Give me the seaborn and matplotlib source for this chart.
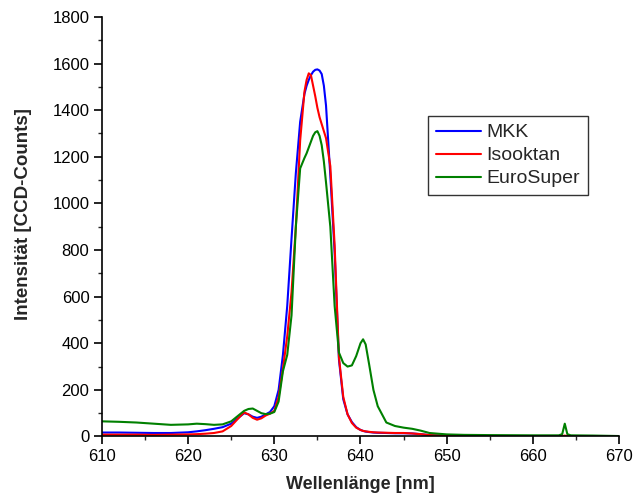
import numpy as np
import pandas as pd
import matplotlib
matplotlib.use("Agg")
import matplotlib.pyplot as plt
import seaborn as sns
from matplotlib.ticker import MultipleLocator

# Wavelength grid (nm)
wl = [610, 612, 614, 616, 618, 620, 621, 622, 623, 624, 625, 626, 626.5, 627, 627.5,
      628, 628.5, 629, 629.5, 630, 630.5, 631, 631.5, 632, 632.5, 633, 633.5, 633.75,
      634, 634.25, 634.5, 634.75, 635, 635.25, 635.5, 635.75, 636, 636.5, 637, 637.5,
      638, 638.5, 639, 639.5, 640, 640.3, 640.6, 641, 641.5, 642, 643, 644, 645, 646,
      647, 648, 650, 652, 655, 660, 663, 663.4, 663.7, 664, 664.4, 667, 670]

mkk = [17, 17, 16, 15, 15, 18, 22, 27, 33, 40, 55, 85, 100, 95, 85,
       80, 85, 95, 105, 130, 200, 350, 560, 850, 1130, 1350, 1470, 1505,
       1530, 1550, 1565, 1573, 1575, 1570, 1555, 1505, 1420, 1120, 790, 330,
       160, 95, 62, 40, 28, 24, 21, 19, 17, 16, 15, 14, 14, 13,
       10, 6, 3, 2, 1, 1, 1, 1, 1, 1, 1, 1, 0]

isooktan = [8, 8, 8, 7, 8, 9, 10, 12, 15, 22, 45, 85, 103, 95, 80,
            72, 78, 90, 98, 110, 170, 290, 430, 620, 900, 1270, 1480, 1530,
            1558, 1550, 1505, 1460, 1410, 1370, 1340, 1310, 1280, 1160, 820, 340,
            170, 95, 58, 38, 28, 24, 22, 20, 18, 17, 16, 15, 15, 13,
            10, 6, 3, 2, 1, 1, 1, 1, 4, 1, 1, 1, 0]

eurosuper = [65, 63, 60, 55, 50, 52, 55, 53, 50, 52, 65, 95, 110, 118, 120,
             110, 100, 96, 98, 105, 150, 280, 350, 520, 900, 1150, 1195, 1215,
             1240, 1265, 1290, 1305, 1310, 1290, 1250, 1180, 1090, 900, 560, 360,
             315, 300, 305, 345, 400, 417, 395, 310, 200, 130, 60, 45, 38, 33,
             25, 15, 9, 7, 6, 5, 5, 10, 55, 10, 5, 4, 2]

series_names = ["MKK", "Isooktan", "EuroSuper"]
colors = ["#0000ff", "#ff0000", "#008000"]

df = pd.concat([
    pd.DataFrame({"wl": wl, "val": v, "Probe": n})
    for n, v in zip(series_names, [mkk, isooktan, eurosuper])
], ignore_index=True)

sns.set_style("ticks")
plt.rcParams["font.family"] = ["Liberation Sans", "DejaVu Sans"]

fig = plt.figure(figsize=(6.33, 4.98), dpi=100)
ax = fig.add_axes([0.161, 0.1235, 0.817, 0.8425])

sns.lineplot(data=df, x="wl", y="val", hue="Probe", hue_order=series_names,
             palette=colors, estimator=None, sort=True, linewidth=1.5, ax=ax)

ax.set_xlim(610, 670)
ax.set_ylim(0, 1800)
ax.xaxis.set_major_locator(MultipleLocator(10))
ax.xaxis.set_minor_locator(MultipleLocator(5))
ax.yaxis.set_major_locator(MultipleLocator(200))
ax.yaxis.set_minor_locator(MultipleLocator(100))
ax.tick_params(which="major", direction="out", length=6, width=1.2, labelsize=12,
               colors="black", pad=3)
ax.tick_params(which="minor", direction="out", length=3, width=1.0)
sns.despine(ax=ax)
for s in ["left", "bottom"]:
    ax.spines[s].set_color("black")
    ax.spines[s].set_linewidth(1.2)

ax.set_xlabel("Wellenlänge [nm]", fontsize=13, fontweight="bold", labelpad=9)
ax.set_ylabel("Intensität [CCD-Counts]", fontsize=13.5, fontweight="bold")
ax.yaxis.set_label_coords(-0.136, 0.530)

leg = ax.legend(title=None, loc="upper left", bbox_to_anchor=(0.631, 0.764),
                fontsize=14, frameon=True, fancybox=False, edgecolor="black",
                handlelength=2.3, handletextpad=0.3, borderpad=0.4,
                labelspacing=0.28, borderaxespad=0)
leg.get_frame().set_linewidth(1.0)

fig.savefig("out.png", dpi=100)
